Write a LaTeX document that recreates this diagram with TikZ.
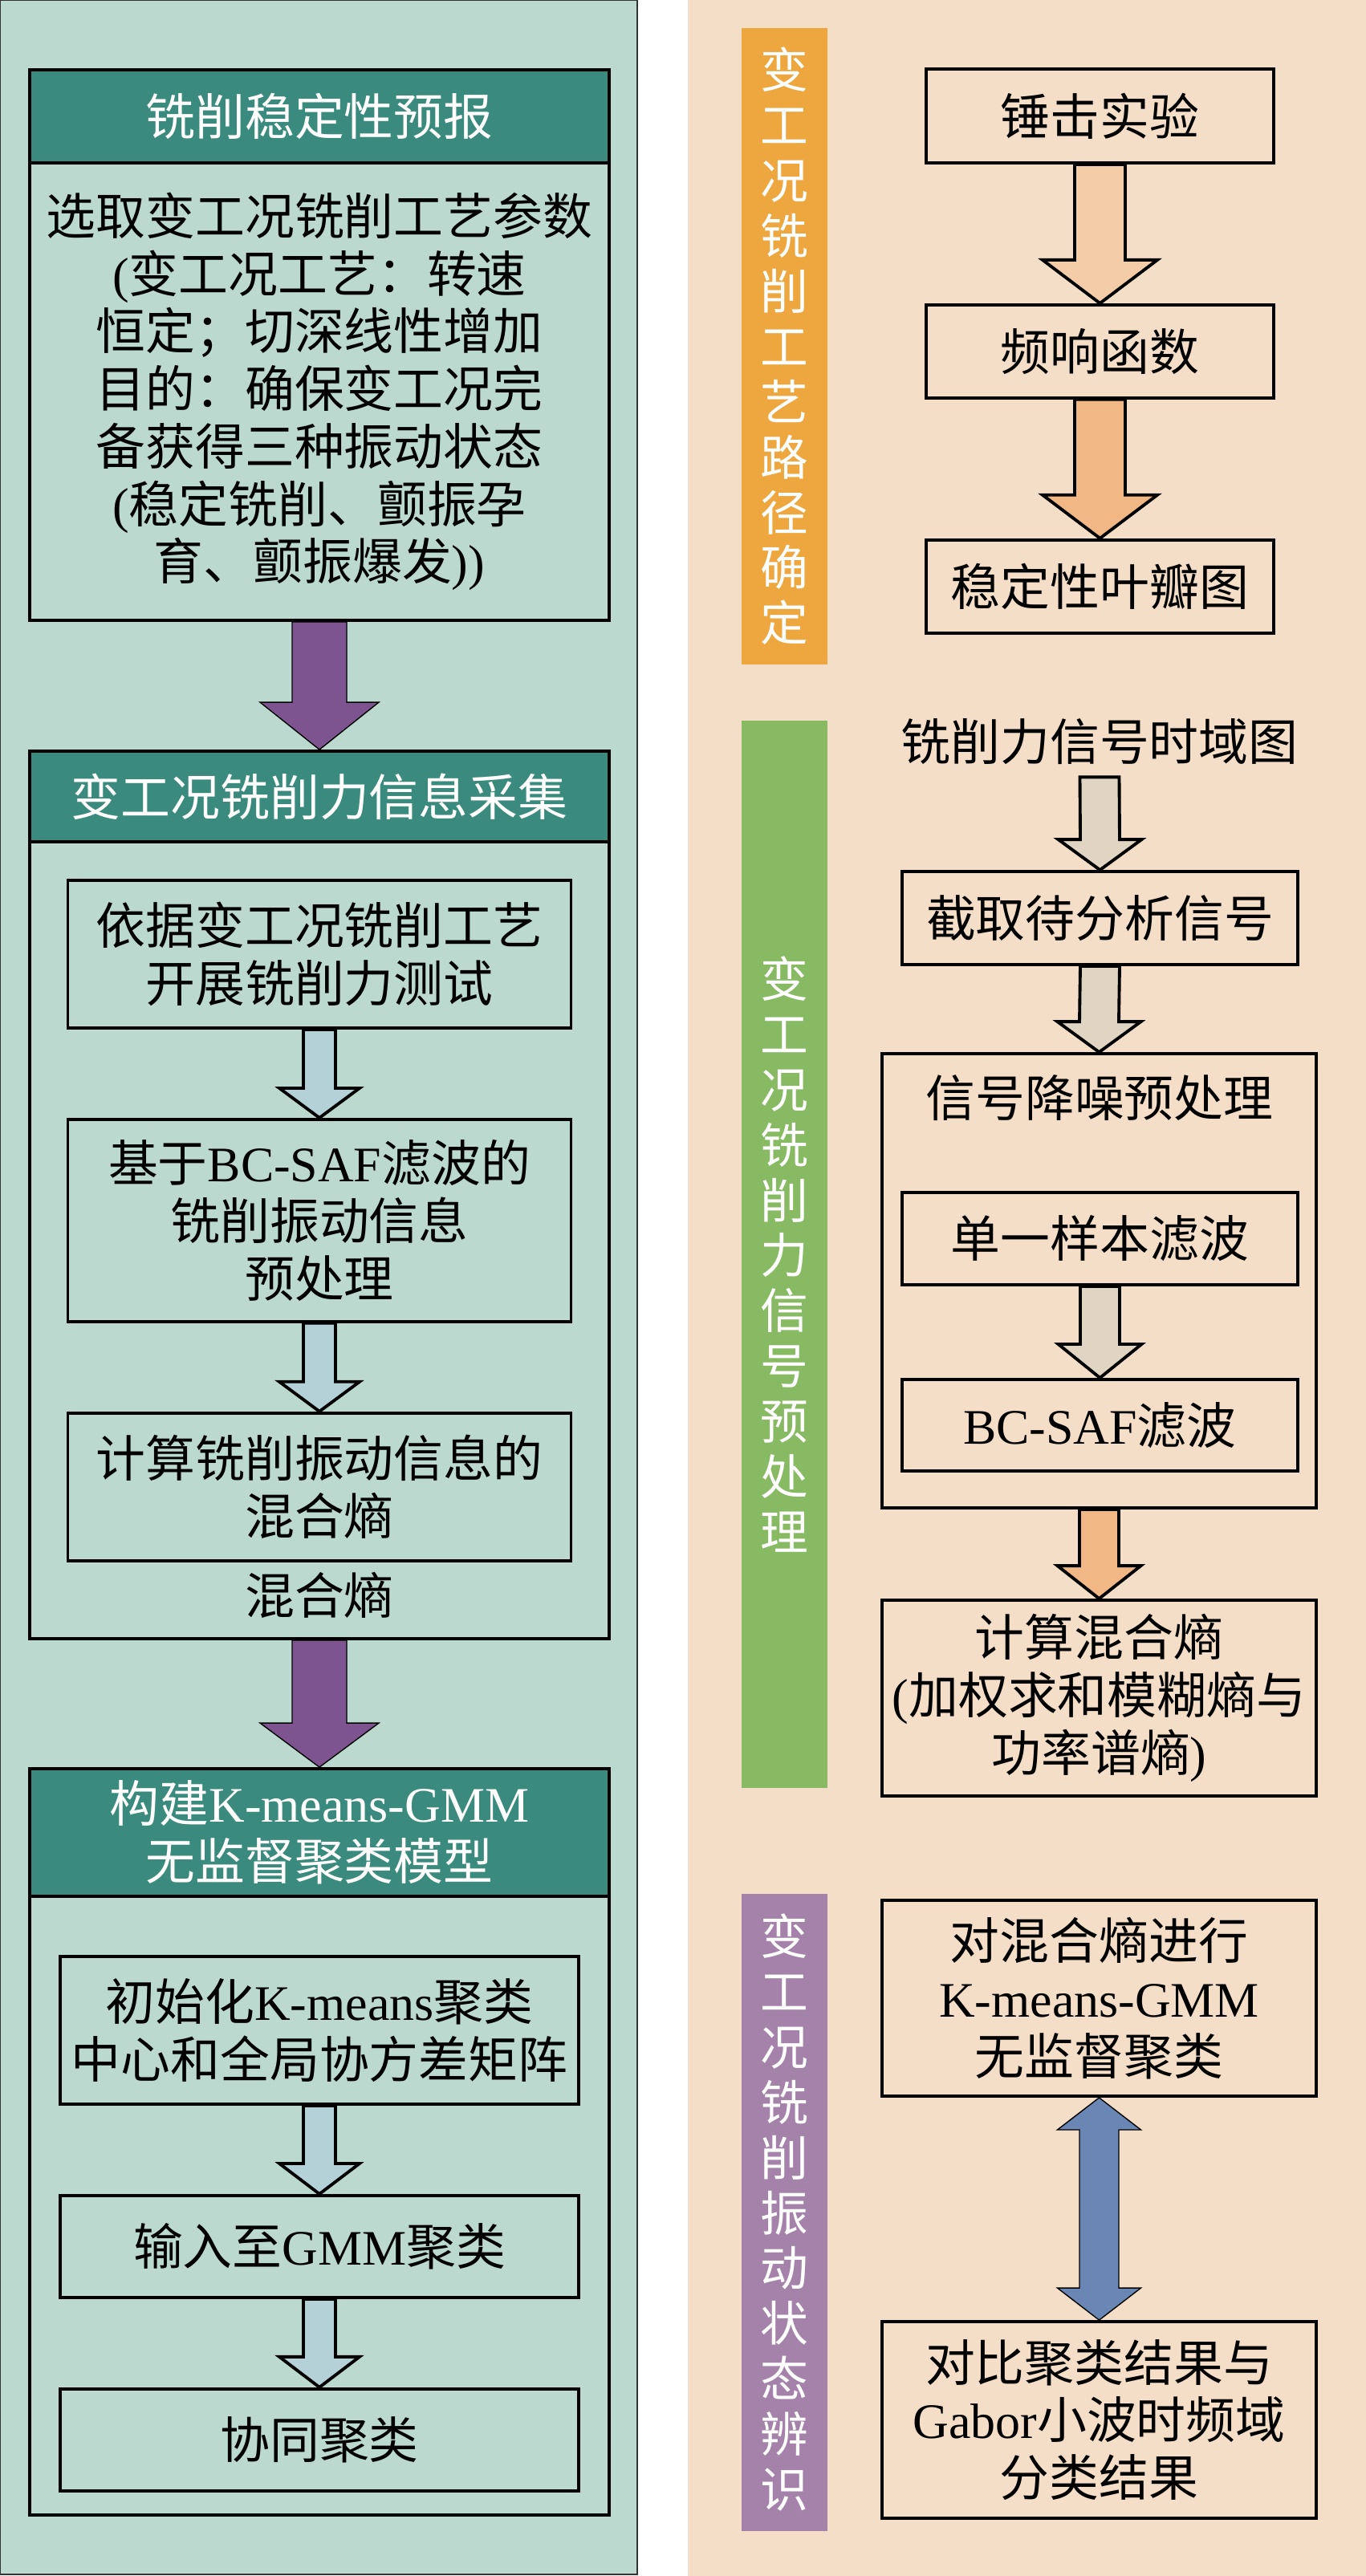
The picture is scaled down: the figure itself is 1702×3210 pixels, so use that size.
\documentclass[tikz,border=0pt]{standalone}
\usepackage{fontspec}
\setmainfont{Noto Sans CJK SC}
\newfontfamily\enfont{Liberation Serif}
\newcommand{\en}[1]{{\enfont #1}}
\usepackage{tikz}
\usetikzlibrary{positioning}
\usetikzlibrary{calc}

\definecolor{sage}{HTML}{BCD9CF}
\definecolor{headteal}{HTML}{3A8A7D}
\definecolor{plum}{HTML}{7E5490}
\definecolor{icearrow}{HTML}{B3D1D6}
\definecolor{sand}{HTML}{F5DEC7}
\definecolor{amber}{HTML}{EDA73E}
\definecolor{leaf}{HTML}{87BA62}
\definecolor{mauve}{HTML}{A482AA}
\definecolor{peachA}{HTML}{F4CDA8}
\definecolor{peachB}{HTML}{F1B785}
\definecolor{greige}{HTML}{E0D4C3}
\definecolor{steel}{HTML}{6A86B4}

\tikzset{
  box/.style     = { rectangle, inner sep=0pt, align=center },
  border/.style  = { line width=1.1pt, draw=black },
  cjk/.style     = { font=\fontsize{17.6}{20.4}\selectfont },
}
\tikzset{
  outerbox/.style = { box, border, minimum width=72.2mm },
  headbar/.style  = { box, border, cjk, fill=headteal, text=white, minimum width=72.2mm },
  stepbox/.style  = { box, border, cjk },
  bare/.style     = { box, cjk },
  sidebar/.style  = { box, text=white, minimum width=10.7mm, font=\fontsize{17}{19.6}\selectfont },
  fat/.style      = { line width=1.1pt, draw=black }
}

% block arrow: style, from, to, shaft half width, head half width, head length
\newcommand{\blockarrow}[6]{%
  \draw[#1] ($(#2)+(-#4,0)$) -- ($(#3)+(-#4,-#6)$) -- ($(#3)+(-#5,-#6)$) -- (#3)
    -- ($(#3)+(#5,-#6)$) -- ($(#3)+(#4,-#6)$) -- ($(#2)+(#4,0)$) -- cycle;}
\newcommand{\twowayarrow}[6]{%
  \draw[#1] (#2) -- ($(#2)+(#5,#6)$) -- ($(#2)+(#4,#6)$) -- ($(#3)+(#4,-#6)$)
    -- ($(#3)+(#5,-#6)$) -- (#3) -- ($(#3)+(-#5,-#6)$) -- ($(#3)+(-#4,-#6)$)
    -- ($(#2)+(-#4,#6)$) -- ($(#2)+(-#5,#6)$) -- cycle;}

\begin{document}
\begin{tikzpicture}[x=0.1mm, y=-0.1mm, node distance=11mm]
  \useasboundingbox (0,0) rectangle (1702,3210);
  \path[fill=sage, draw=black!80, line width=0.6pt] (0,0) rectangle (794,3208);
  \path[fill=sand] (857,0) rectangle (1702,3210);

  % left column
  \node (prep)    [outerbox, minimum height=68.6mm] at (398,430) {};
  \node (prephd)  [headbar, minimum height=11.6mm, anchor=north] at (prep.north) {铣削稳定性预报};
  \node (preptx)  [bare] at (398,488) {选取变工况铣削工艺参数\\\en{(}变工况工艺：转速\\恒定；切深线性增加\\目的：确保变工况完\\备获得三种振动状态\\\en{(}稳定铣削、颤振孕\\育、颤振爆发\en{))}};

  \node (acq)     [outerbox, minimum height=110.6mm] at (398,1489) {};
  \node (acqhd)   [headbar, minimum height=11.3mm, anchor=north] at (acq.north) {变工况铣削力信息采集};
  \node (test)    [stepbox, minimum width=62.7mm, minimum height=18.4mm] at (398,1189) {依据变工况铣削工艺\\开展铣削力测试};
  \node (bcsaf)   [stepbox, minimum width=62.7mm, minimum height=25.2mm, below=of test] {基于\en{BC-SAF}滤波的\\铣削振动信息\\预处理};
  \node (mixent)  [stepbox, minimum width=62.7mm, minimum height=18.4mm, below=of bcsaf] {计算铣削振动信息的\\混合熵};
  \node (mixout)  [bare] at (398,1988) {混合熵};

  \node (model)   [outerbox, minimum height=93mm] at (398,2669) {};
  \node (modelhd) [headbar, minimum height=15.9mm, anchor=north] at (model.north) {构建\en{K-means-GMM}\\无监督聚类模型};
  \node (init)    [stepbox, minimum width=64.6mm, minimum height=18.4mm] at (398,2530) {初始化\en{K-means}聚类\\中心和全局协方差矩阵};
  \node (gmm)     [stepbox, minimum width=64.6mm, minimum height=12.7mm, below=of init] {输入至\en{GMM}聚类};
  \node (cocl)    [stepbox, minimum width=64.6mm, minimum height=12.7mm, below=of gmm] {协同聚类};

  \blockarrow{fill=plum}{prep.south}{acq.north}{34}{74}{59}
  \blockarrow{fill=plum}{acq.south}{model.north}{34}{74}{55}
  \blockarrow{fat, fill=icearrow}{test.south}{bcsaf.north}{20}{50}{37}
  \blockarrow{fat, fill=icearrow}{bcsaf.south}{mixent.north}{20}{50}{37}
  \blockarrow{fat, fill=icearrow}{init.south}{gmm.north}{20}{50}{38}
  \blockarrow{fat, fill=icearrow}{gmm.south}{cocl.north}{20}{50}{38}

  % right column
  \node (route)   [sidebar, fill=amber, minimum height=79.3mm] at (977.5,431.5) {变\\工\\况\\铣\\削\\工\\艺\\路\\径\\确\\定};
  \node (hammer)  [stepbox, minimum width=43.3mm, minimum height=11.7mm] at (1370.5,144.5) {锤击实验};
  \node (frf)     [stepbox, minimum width=43.3mm, minimum height=11.6mm, below=17.3mm of hammer] {频响函数};
  \node (lobe)    [stepbox, minimum width=43.3mm, minimum height=11.6mm, below=17.3mm of frf] {稳定性叶瓣图};
  \blockarrow{fat, fill=peachA}{hammer.south}{frf.north}{31.5}{71.5}{54}
  \blockarrow{fat, fill=peachB}{frf.south}{lobe.north}{31.5}{71.5}{54}

  \node (denoise) [sidebar, fill=leaf, minimum height=133mm] at (977.5,1563) {变\\工\\况\\铣\\削\\力\\信\\号\\预\\处\\理};
  \node (sig)     [bare, inner sep=1.5mm] at (1370,924) {铣削力信号时域图};
  \node (cut)     [stepbox, minimum width=49.3mm, minimum height=11.6mm] at (1370.5,1144) {截取待分析信号};
  \node (nr)      [stepbox, minimum width=54.1mm, minimum height=56.6mm] at (1369.5,1596) {};
  \node (nrtx)    [bare] at (1370,1368) {信号降噪预处理};
  \node (single)  [stepbox, minimum width=49.3mm, minimum height=11.5mm] at (1370.5,1543.5) {单一样本滤波};
  \node (bcf)     [stepbox, minimum width=49.3mm, minimum height=11.4mm, below=11.4mm of single] {\en{BC-SAF}滤波};
  \node (hent)    [stepbox, minimum width=54.1mm, minimum height=24.4mm] at (1369.5,2116) {计算混合熵\\\en{(}加权求和模糊熵与\\功率谱熵\en{)}};
  \blockarrow{fat, fill=greige}{sig.south}{cut.north}{24.5}{52}{38}
  \blockarrow{fat, fill=greige}{cut.south}{nr.north}{24.5}{52}{38}
  \blockarrow{fat, fill=greige}{single.south}{bcf.north}{24.5}{52}{42}
  \blockarrow{fat, fill=peachB}{nr.south}{hent.north}{24.5}{52}{41}

  \node (ident)   [sidebar, fill=mauve, minimum height=79.4mm] at (977.5,2757) {变\\工\\况\\铣\\削\\振\\动\\状\\态\\辨\\识};
  \node (kmc)     [stepbox, minimum width=54.1mm, minimum height=24.4mm] at (1369.5,2490) {对混合熵进行\\\en{K-means-GMM}\\无监督聚类};
  \node (cmp)     [stepbox, minimum width=54.1mm, minimum height=24.5mm] at (1369.5,3015.5) {对比聚类结果与\\\en{Gabor}小波时频域\\分类结果};
  \twowayarrow{fill=steel}{kmc.south}{cmp.north}{24.5}{52}{40}
\end{tikzpicture}
\end{document}
